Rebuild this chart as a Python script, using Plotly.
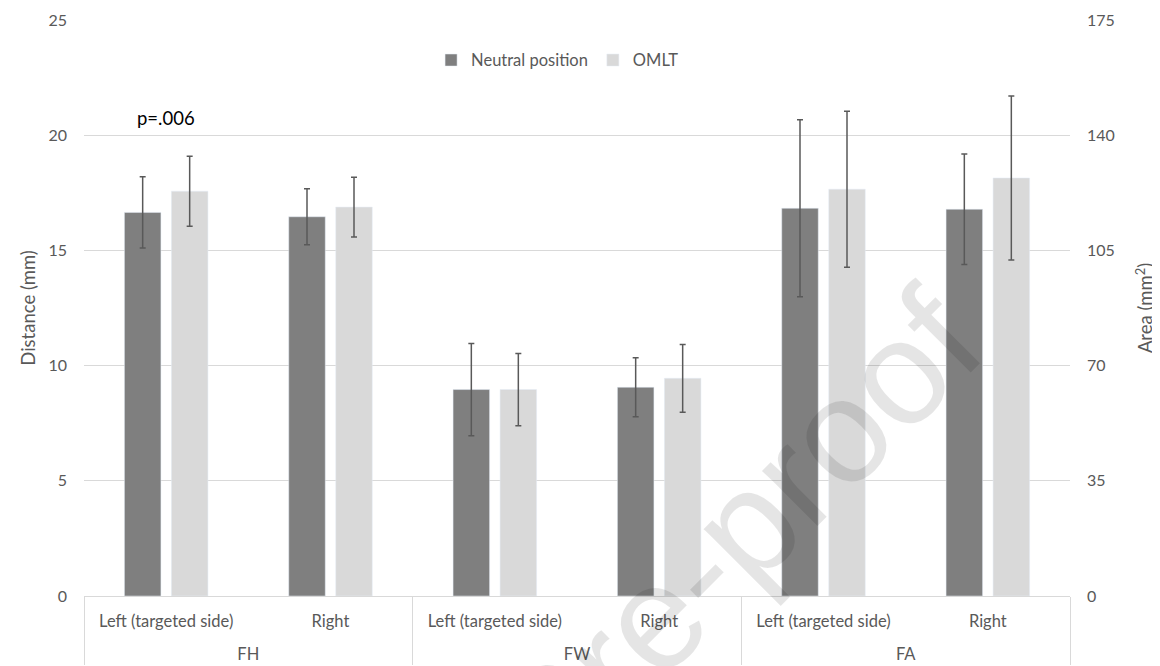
import plotly.graph_objects as go

# Data
outer_dist = ["FH", "FH", "FW", "FW"]
inner_dist = ["Left (targeted side)", "Right", "Left (targeted side)", "Right"]
neutral_dist = [16.65, 16.46, 8.96, 9.06]
neutral_dist_err = [1.55, 1.22, 2.0, 1.28]
omlt_dist = [17.57, 16.88, 8.96, 9.45]
omlt_dist_err = [1.52, 1.30, 1.57, 1.47]

outer_area = ["FA", "FA"]
inner_area = ["Left (targeted side)", "Right"]
neutral_area = [117.8, 117.5]
neutral_area_err = [26.9, 16.8]
omlt_area = [123.6, 127.0]
omlt_area_err = [23.7, 24.9]

left_ticks = [0, 5, 10, 15, 20, 25]
right_ticks = [0, 35, 70, 105, 140, 175]

DARK = "#7f7f7f"
LIGHT = "#d9d9d9"
TXT = "#595959"
GRID = "#d9d9d9"
FONT = "Lato"

def err(vals):
    return dict(type="data", array=vals, color=TXT, thickness=1.5, width=3)

def outer_lbl(lst):
    return ["<br>" + s for s in lst]

fig = go.Figure()
fig.add_trace(go.Bar(name="Neutral position", x=[outer_lbl(outer_dist), inner_dist], y=neutral_dist,
                     error_y=err(neutral_dist_err), marker_color=DARK,
                     legendgroup="n", yaxis="y"))
fig.add_trace(go.Bar(name="OMLT", x=[outer_lbl(outer_dist), inner_dist], y=omlt_dist,
                     error_y=err(omlt_dist_err), marker_color=LIGHT,
                     legendgroup="o", yaxis="y"))
fig.add_trace(go.Bar(name="Neutral position", x=[outer_lbl(outer_area), inner_area], y=neutral_area,
                     error_y=err(neutral_area_err), marker_color=DARK,
                     legendgroup="n", showlegend=False, yaxis="y2"))
fig.add_trace(go.Bar(name="OMLT", x=[outer_lbl(outer_area), inner_area], y=omlt_area,
                     error_y=err(omlt_area_err), marker_color=LIGHT,
                     legendgroup="o", showlegend=False, yaxis="y2"))

fig.update_layout(
    width=1152, height=658,
    margin=dict(l=76, r=90, t=12, b=69.6, autoexpand=False),
    paper_bgcolor="white", plot_bgcolor="white",
    font=dict(family=FONT, size=16, color=TXT),
    barmode="group", bargap=0.428, bargroupgap=0.223,
    showlegend=True,
    legend=dict(orientation="h", x=0.352, xanchor="left", y=0.93, yanchor="middle",
                font=dict(size=16.5, color=TXT), bgcolor="rgba(0,0,0,0)"),
    xaxis=dict(type="multicategory", showline=True, linecolor=GRID, linewidth=1,
               showdividers=True, dividercolor=GRID, dividerwidth=1, automargin=False,
               tickfont=dict(size=16.5, color=TXT), showgrid=False, ticks="",
               ticklabelstandoff=10),
    yaxis=dict(range=[0, 25], tickvals=left_ticks, showgrid=True, gridcolor=GRID,
               zeroline=False, ticks="", ticklabelstandoff=16, automargin=False,
               tickfont=dict(size=16, color=TXT),
               title=dict(text="Distance (mm)", font=dict(size=18.5, color=TXT), standoff=7)),
    yaxis2=dict(range=[0, 175], tickvals=right_ticks, overlaying="y", side="right",
                showgrid=False, zeroline=False, ticks="", ticklabelstandoff=16, automargin=False,
                tickfont=dict(size=16, color=TXT),
                title=dict(text="Area (mm<sup>2</sup>)", font=dict(size=18.5, color=TXT), standoff=25)),
    annotations=[
        dict(text="p=.006", xref="paper", yref="paper", x=0.0832, y=0.830,
             xanchor="center", yanchor="middle",
             showarrow=False, font=dict(family=FONT, size=18.5, color="black")),
        dict(text="Journal Pre-proof", xref="paper", yref="paper", x=0.4726, y=-0.216,
             xanchor="center", yanchor="middle",
             showarrow=False, textangle=-45,
             font=dict(family="Liberation Sans", size=148, color="rgba(0,0,0,0.10)")),
    ],
)

fig.write_html("out.html")
